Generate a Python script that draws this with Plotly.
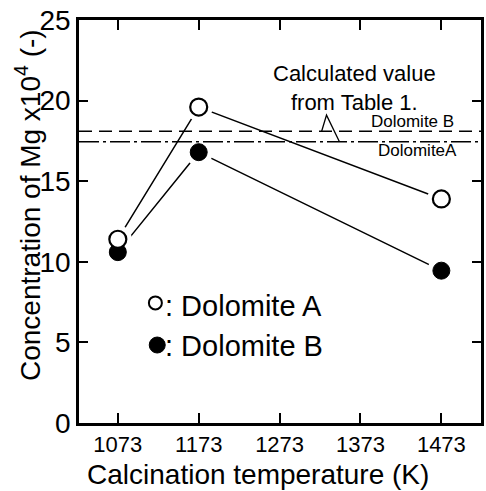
import plotly.graph_objects as go

# Calcination temperature (K) and measured Mg concentration (x10^4)
temperature = [1073, 1173, 1473]
dolomite_a = [11.4, 19.6, 13.9]
dolomite_b = [10.6, 16.8, 9.45]

# Values calculated from Table 1
calc_a = 17.45
calc_b = 18.1

x_ticks = [1073, 1173, 1273, 1373, 1473]
y_ticks = [0, 5, 10, 15, 20, 25]

FONT = "Liberation Sans"
BLACK = "black"

fig = go.Figure()

# connecting lines
for series in (dolomite_a, dolomite_b):
    fig.add_trace(go.Scatter(x=temperature, y=series, mode="lines",
                             line=dict(color=BLACK, width=1.5),
                             hoverinfo="skip", showlegend=False))

# white halo so lines stop short of the symbols
for series in (dolomite_a, dolomite_b):
    fig.add_trace(go.Scatter(x=temperature, y=series, mode="markers",
                             marker=dict(size=28, color="white", line=dict(width=0)),
                             hoverinfo="skip", showlegend=False))

fig.add_trace(go.Scatter(x=temperature, y=dolomite_b, mode="markers", name="Dolomite B",
                         marker=dict(size=17, color=BLACK, symbol="circle",
                                     line=dict(color=BLACK, width=1)),
                         showlegend=False))
fig.add_trace(go.Scatter(x=temperature, y=dolomite_a, mode="markers", name="Dolomite A",
                         marker=dict(size=17, color="white", symbol="circle",
                                     line=dict(color=BLACK, width=2.2)),
                         showlegend=False))

shapes = [
    dict(type="line", xref="paper", yref="y", x0=0, x1=1, y0=calc_b, y1=calc_b,
         line=dict(color=BLACK, width=1.5, dash="13px,7px"), layer="above"),
    dict(type="line", xref="paper", yref="y", x0=0, x1=1, y0=calc_a, y1=calc_a,
         line=dict(color=BLACK, width=1.5, dash="20px,4px,3px,4px"), layer="above"),
    # leader from the note to the two lines
    dict(type="path", xref="x", yref="y",
         path=f"M 1325 {calc_b} L 1331 19.1 L 1347 {calc_a}",
         line=dict(color=BLACK, width=1.3), layer="above"),
    # key symbols
    dict(type="circle", xref="paper", yref="paper", xsizemode="pixel", ysizemode="pixel",
         xanchor=0.19, yanchor=0.298, x0=-6.5, x1=6.5, y0=-6.5, y1=6.5,
         line=dict(color=BLACK, width=2), fillcolor="white"),
    dict(type="circle", xref="paper", yref="paper", xsizemode="pixel", ysizemode="pixel",
         xanchor=0.1946, yanchor=0.1935, x0=-8, x1=8, y0=-8, y1=8,
         line=dict(color=BLACK, width=1), fillcolor=BLACK),
]


def note(text, x, y, size, xanchor="center", **kw):
    return dict(text=text, xref="paper", yref="paper", x=x, y=y,
                xanchor=xanchor, yanchor="middle", showarrow=False,
                font=dict(family=FONT, size=size, color=BLACK), **kw)


annotations = [
    note("Calculated value<br>from Table 1.", 0.685, 0.8325, 22, align="center"),
    note("Dolomite B", 0.830, 0.747, 17),
    note("DolomiteA", 0.842, 0.6757, 17),
    note(": Dolomite A", 0.2094, 0.2903, 29, xanchor="left"),
    note(": Dolomite B", 0.2094, 0.191, 29, xanchor="left"),
    note("Calcination temperature (K)", 0.446, -0.1266, 28),
    note("Concentration of Mg x10<sup>4</sup> (-)", -0.128, 0.5397, 28, textangle=-90),
]

fig.update_layout(
    width=486, height=491,
    margin=dict(l=79, r=2, t=20, b=68),
    paper_bgcolor="white", plot_bgcolor="white",
    font=dict(family=FONT, color=BLACK),
    shapes=shapes, annotations=annotations,
    showlegend=False,
)

fig.update_xaxes(range=[1025, 1522], tickvals=x_ticks, ticktext=[str(t) for t in x_ticks],
                 ticks="inside", ticklen=10, tickwidth=2, tickcolor=BLACK,
                 showline=True, linecolor=BLACK, linewidth=2.5, mirror="allticks",
                 showgrid=False, zeroline=False, tickfont=dict(family=FONT, size=22, color=BLACK))
fig.update_yaxes(range=[0, 25], tickvals=y_ticks,
                 ticks="inside", ticklen=9, tickwidth=2, tickcolor=BLACK,
                 showline=True, linecolor=BLACK, linewidth=2.5, mirror="allticks",
                 showgrid=False, zeroline=False, tickfont=dict(family=FONT, size=28, color=BLACK))

fig.write_html("out.html")
